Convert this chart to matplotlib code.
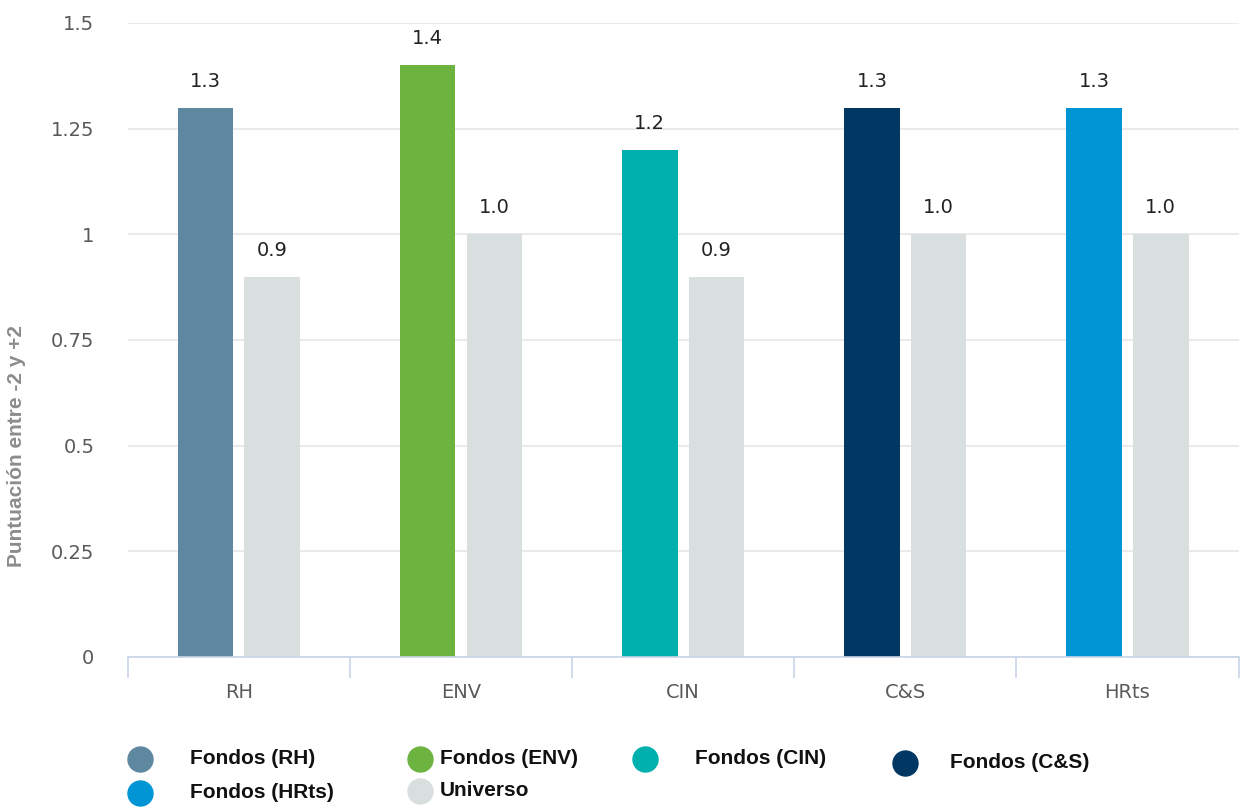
import numpy as np
import matplotlib.pyplot as plt
from matplotlib.lines import Line2D

# data
categories = ["RH", "ENV", "CIN", "C&S", "HRts"]
fondos = [1.3, 1.4, 1.2, 1.3, 1.3]
universo = [0.9, 1.0, 0.9, 1.0, 1.0]
fondos_colors = ["#5E87A0", "#6DB33F", "#00B0AD", "#003763", "#0096D6"]
universo_color = "#D9DEDE"
legend_labels = ["Fondos (RH)", "Fondos (ENV)", "Fondos (CIN)", "Fondos (C&S)", "Fondos (HRts)", "Universo"]
yticks = [0, 0.25, 0.5, 0.75, 1, 1.25, 1.5]
ytick_labels = ["0", "0.25", "0.5", "0.75", "1", "1.25", "1.5"]

fig = plt.figure(figsize=(12.41, 8.07), dpi=100)
ax = fig.add_axes([0.103, 0.186, 0.895, 0.7855])

x = np.arange(len(categories))
w = 0.25
off = 0.15
ax.bar(x - off, fondos, w, color=fondos_colors, zorder=3)
ax.bar(x + off, universo, w, color=universo_color, zorder=3)

for xi, v in zip(x - off, fondos):
    ax.text(xi, v + 0.04, f"{v:.1f}", ha="center", va="bottom", fontsize=14,
            color="#222222", family="DejaVu Sans")
for xi, v in zip(x + off, universo):
    ax.text(xi, v + 0.04, f"{v:.1f}", ha="center", va="bottom", fontsize=14,
            color="#222222", family="DejaVu Sans")

ax.set_xlim(-0.5, len(categories) - 0.5)
ax.set_ylim(0, 1.5)
ax.set_yticks(yticks)
ax.set_yticklabels(ytick_labels)
ax.set_xticks(x)
ax.set_xticklabels(categories)
ax.set_xticks(np.arange(len(categories) + 1) - 0.5, minor=True)
ax.tick_params(axis="x", which="major", length=0, pad=19, labelsize=14, labelcolor="#5a5a5a")
ax.tick_params(axis="x", which="minor", length=15, color="#C8D4E8", width=1.2)
ax.tick_params(axis="y", length=0, pad=24, labelsize=14, labelcolor="#5a5a5a")

ax.grid(axis="y", color="#E6E6E6", linewidth=1.2, zorder=0)
for s in ["top", "right", "left"]:
    ax.spines[s].set_visible(False)
ax.spines["bottom"].set_color("#C8D4E8")
ax.spines["bottom"].set_linewidth(1.2)
ax.spines["bottom"].set_zorder(4)

fig.text(0.013, 0.447, "Puntuación entre -2 y +2", rotation=90, ha="center", va="center",
         fontsize=15, fontweight="bold", color="#8c8c8c", family="Liberation Sans")

# legend, placed by hand to follow the original layout
leg_colors = fondos_colors + [universo_color]
marker_x = [140, 420, 645, 905, 140, 420]
text_x = [190, 440, 695, 950, 190, 440]
row_y = [758, 758, 758, 762, 792, 790]
W, H = 1241, 807
for lab, c, mx, tx, ry in zip(legend_labels, leg_colors, marker_x, text_x, row_y):
    fig.add_artist(Line2D([mx / W], [1 - (ry + 1) / H], marker="o", markersize=18,
                          color=c, linestyle="none", transform=fig.transFigure))
    fig.text(tx / W, 1 - ry / H, lab, ha="left", va="center", fontsize=15,
             fontweight="bold", color="#111111", family="Liberation Sans")

fig.savefig("out.png", dpi=100)
